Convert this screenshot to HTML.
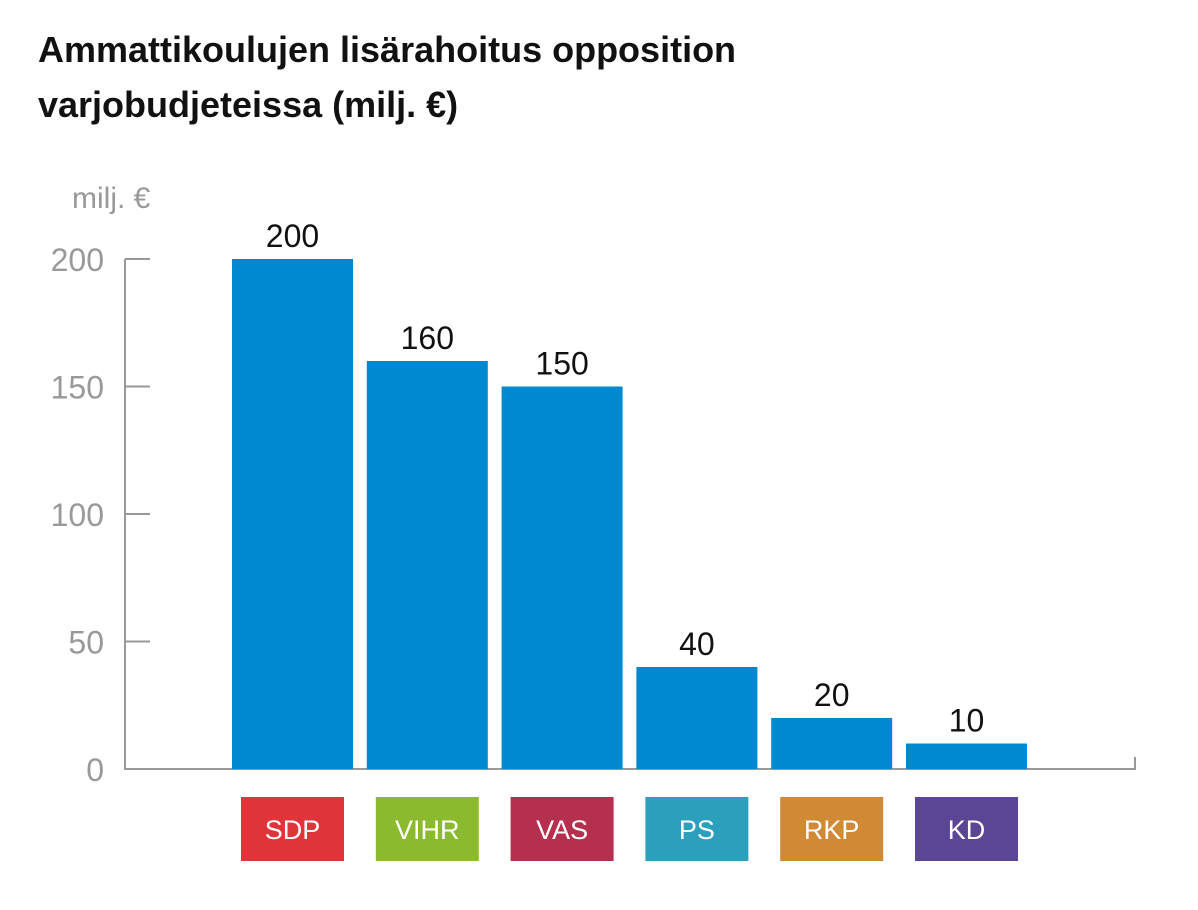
<!DOCTYPE html>
<html><head><meta charset="utf-8"><style>
body{margin:0;background:#fff;width:1198px;height:905px;overflow:hidden;font-family:"Liberation Sans",sans-serif}
</style></head><body>
<svg id="chart" width="1198" height="905" xmlns="http://www.w3.org/2000/svg">
<text x="38" y="62" font-size="36" font-weight="bold" fill="#111">Ammattikoulujen lisärahoitus opposition</text>
<text x="38" y="117" font-size="36" font-weight="bold" fill="#111">varjobudjeteissa (milj. €)</text>
<text x="72" y="208" font-size="30" fill="#999">milj. €</text>
<g id="axes"></g><g id="bars"></g><g id="labels"></g>
</svg>
<script>
const categories=["SDP","VIHR","VAS","PS","RKP","KD"];
const values=[200,160,150,40,20,10];
const colors=["#e0343a","#8cba2f","#b5304f","#2ba0bd","#d08a35","#5b4595"];
const ticks=[0,50,100,150,200];
const NS="http://www.w3.org/2000/svg";
const y0=769,y1=259,vmax=200;
const y=v=>y0-(v/vmax)*(y0-y1);
const x=i=>232+i*134.8;
function mk(t,a,p){const e=document.createElementNS(NS,t);for(const k in a)e.setAttribute(k,a[k]);p.appendChild(e);return e;}
const ax=document.getElementById('axes'),bg=document.getElementById('bars'),lg=document.getElementById('labels');
let l=mk('line',{x1:125,x2:125,y1:y(200),y2:y0,stroke:'#999','stroke-width':2},ax);

l=mk('line',{x1:124,x2:1135,y1:y0,y2:y0,stroke:'#999','stroke-width':2},ax);

l=mk('line',{x1:1135,x2:1135,y1:y0-12,y2:y0+1,stroke:'#999','stroke-width':2},ax);

ticks.forEach(t=>{
 const tl=mk('line',{x1:125,x2:150,y1:y(t),y2:y(t),stroke:'#999','stroke-width':2},ax);
 
 const tx=mk('text',{x:104,y:y(t)+12,'font-size':32,fill:'#999','text-anchor':'end'},ax);
 
 tx.textContent=t;
});
categories.forEach((c,i)=>{
 const r=mk('rect',{x:x(i),y:y(values[i]),width:121,height:y0-y(values[i]),fill:'#0088d1'},bg);
 
 const v=mk('text',{x:x(i)+60.5,y:y(values[i])-12,'font-size':32,fill:'#111','text-anchor':'middle'},bg);
 
 v.textContent=values[i];
 const b=mk('rect',{x:x(i)+9,y:797,width:103,height:64,fill:colors[i]},lg);
 
 const t=mk('text',{x:x(i)+60.5,y:839,'font-size':27,fill:'#fff','text-anchor':'middle'},lg);
 
 t.textContent=c;
});
</script>
</body></html>
